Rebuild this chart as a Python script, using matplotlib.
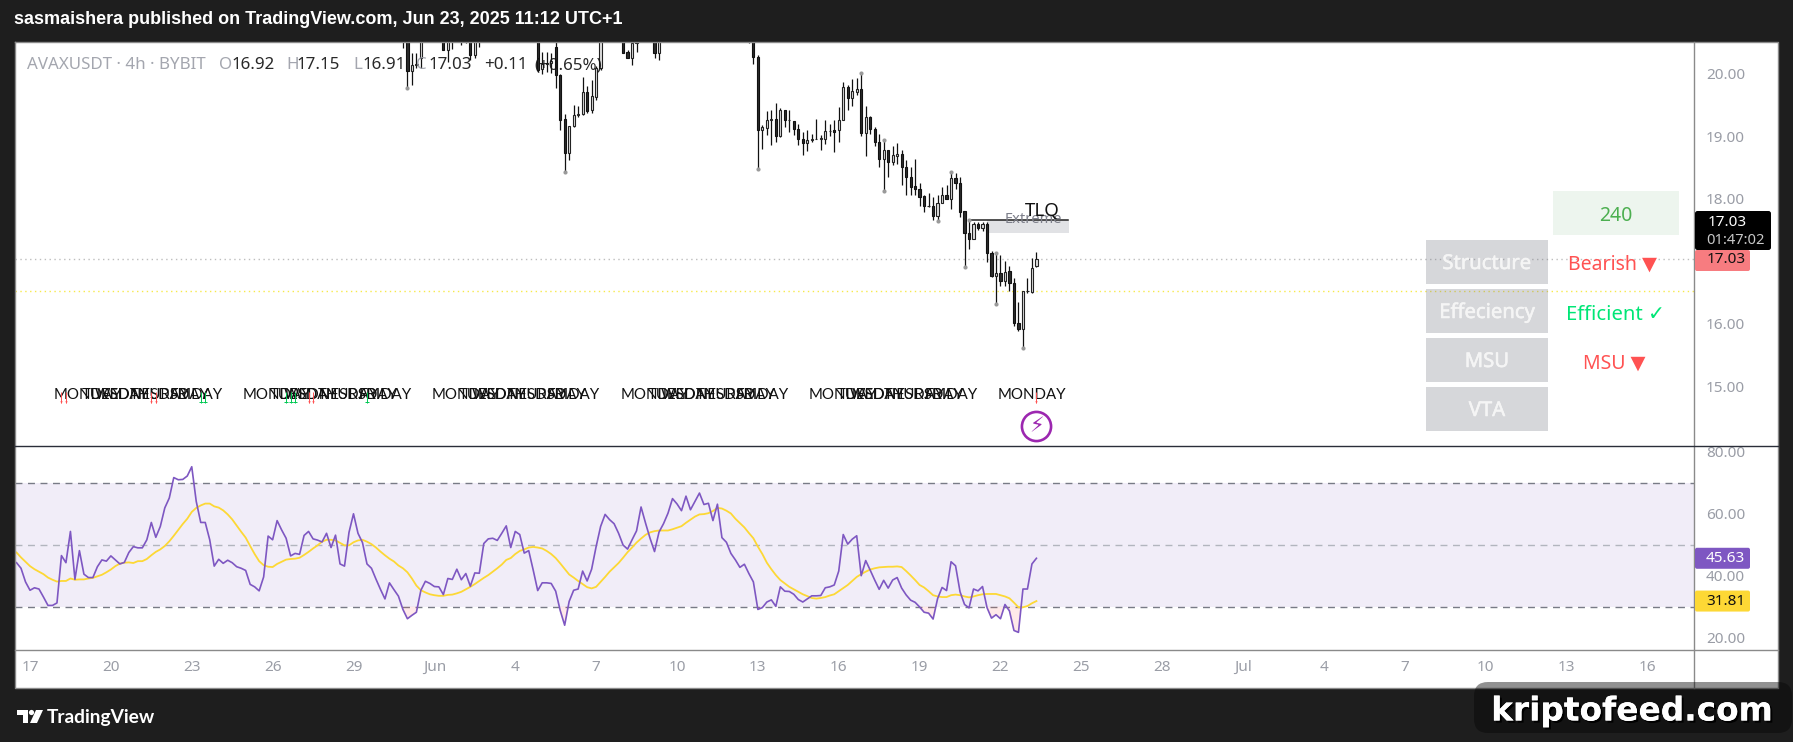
import numpy as np
import matplotlib
matplotlib.use("Agg")
import matplotlib.pyplot as plt
import matplotlib.patheffects as pe
from matplotlib.patches import Rectangle, FancyBboxPatch, Circle, Polygon

W, H = 1793, 742

# candles that fall inside the visible price range (4h bars, bar 0 = May 17 00:00)
candle_idx = [83, 84, 85, 86, 87, 90, 92, 93, 94, 96, 97, 98, 99, 100,
              113, 114, 115, 116, 117, 118, 119, 120, 121, 122, 123, 124, 125, 126, 127,
              132, 133, 134, 135, 139, 140, 160, 161,
              162, 163, 164, 165, 166, 167, 168, 169, 170, 171, 172, 173, 174, 175, 176, 177, 178, 179,
              180, 181, 182, 183, 184, 185, 186, 187, 188, 189, 190, 191, 192, 193, 194, 195, 196, 197,
              198, 199, 200, 201, 202, 203, 204, 205, 206, 207, 208, 209, 210, 211, 212, 213, 214, 215,
              216, 217, 218, 219, 220, 221, 222, 223, 224]
opens = [20.8, 20.9, 20.045, 20.13, 20.25, 20.7, 20.9, 20.38, 20.7, 20.7, 20.7, 20.9, 20.30, 20.7,
         21.0, 20.07, 20.15, 20.17, 20.42, 19.98, 19.27, 18.73, 19.16, 19.33, 19.35, 19.70, 19.41, 19.63, 20.08,
         20.8, 20.34, 20.25, 20.48, 20.8, 20.32, 20.7, 20.9,
         20.27, 19.09, 19.13, 19.25, 19.28, 19.0, 19.42, 19.25, 19.24, 19.12, 18.96, 18.89, 18.93, 18.96, 18.96, 18.96, 19.08, 19.09,
         19.09, 19.25, 19.78, 19.61, 19.71, 19.76, 19.05, 19.30, 19.12, 18.91, 18.64, 18.78, 18.58, 18.69, 18.72, 18.50, 18.34, 18.20,
         18.16, 18.04, 17.89, 17.89, 17.73, 17.93, 18.06, 17.99, 18.33, 18.25, 17.80, 17.45, 17.36, 17.59, 17.53, 17.59, 17.14, 16.77,
         16.81, 16.69, 16.84, 16.66, 16.02, 15.92, 16.52, 16.51, 16.92]
highs = [21.0, 21.0, 20.33, 20.33, 21.0, 21.0, 21.0, 21.0, 21.0, 21.0, 21.0, 21.0, 21.0, 21.0,
         21.2, 20.34, 20.34, 20.33, 21.0, 19.99, 19.35, 19.16, 19.49, 19.48, 19.94, 19.80, 19.90, 20.12, 21.0,
         21.0, 20.38, 20.6, 20.9, 21.0, 21.0, 21.0, 21.1,
         20.29, 19.18, 19.40, 19.42, 19.53, 19.45, 19.42, 19.42, 19.24, 19.20, 19.06, 19.10, 19.04, 19.27, 19.02, 19.26, 19.19, 19.25,
         19.47, 19.86, 19.82, 19.91, 19.92, 20.0, 19.48, 19.32, 19.14, 19.04, 18.94, 18.78, 18.84, 18.885, 18.78, 18.62, 18.50, 18.63,
         18.25, 18.06, 18.09, 18.03, 18.06, 18.18, 18.22, 18.42, 18.41, 18.34, 17.81, 17.66, 17.62, 17.62, 17.62, 17.62, 17.17, 17.13,
         17.10, 17.0, 16.92, 16.73, 16.35, 16.52, 16.74, 17.06, 17.15]
lows = [20.41, 19.77, 19.82, 20.09, 20.09, 20.50, 20.38, 20.18, 20.39, 20.46, 20.49, 20.22, 20.25, 20.42,
        20.02, 19.99, 20.03, 20.01, 19.77, 19.10, 18.43, 18.62, 19.14, 19.30, 19.34, 19.37, 19.37, 19.57, 20.05,
        20.33, 20.25, 20.14, 20.34, 20.24, 20.22, 20.49, 20.15,
        18.474, 18.79, 19.02, 18.86, 18.91, 18.98, 19.15, 19.07, 19.01, 18.86, 18.70, 18.76, 18.91, 18.95, 18.78, 18.87, 19.0, 18.74,
        18.91, 19.25, 19.42, 19.48, 19.65, 19.0, 18.68, 19.04, 18.84, 18.51, 18.12, 18.34, 18.54, 18.55, 18.22, 18.06, 18.06, 18.06,
        17.89, 17.79, 17.87, 17.66, 17.64, 17.93, 17.99, 17.83, 18.15, 17.70, 16.91, 17.20, 17.36, 17.50, 17.49, 16.99, 16.75, 16.32,
        16.60, 16.60, 16.52, 15.96, 15.89, 15.62, 16.50, 16.50, 16.91]
closes = [20.9, 20.045, 20.13, 20.15, 20.7, 20.8, 20.38, 20.8, 20.8, 20.8, 20.8, 20.30, 20.8, 20.8,
          20.06, 20.15, 20.17, 20.2, 19.97, 19.26, 18.73, 19.16, 19.33, 19.36, 19.70, 19.40, 19.64, 20.08, 20.7,
          20.33, 20.25, 20.49, 20.7, 20.32, 20.7, 20.8, 20.27,
          19.09, 19.14, 19.25, 19.28, 19.0, 19.42, 19.25, 19.25, 19.12, 18.96, 18.89, 18.93, 18.96, 18.96, 18.97, 19.08, 19.08, 19.07,
          19.25, 19.78, 19.61, 19.72, 19.76, 19.05, 19.30, 19.12, 18.91, 18.64, 18.78, 18.58, 18.70, 18.72, 18.50, 18.34, 18.19, 18.16,
          18.03, 17.89, 17.89, 17.73, 17.93, 18.06, 17.99, 18.33, 18.25, 17.79, 17.45, 17.36, 17.59, 17.53, 17.59, 17.14, 16.76, 16.81,
          16.69, 16.83, 16.66, 16.02, 15.92, 16.52, 16.52, 16.90, 17.03]

# swing points marked with a grey dot
pivot_low_idx = [84, 119, 162, 190, 202, 208, 215, 221]
pivot_high_idx = [185, 190, 205, 209, 215]

# signal arrows under the price
red_arrow_idx = [7, 8, 27, 28, 62, 63, 224]
green_arrow_idx = [38, 39, 57, 58, 59, 75]

weekday_names = ["MONDAY", "TUESDAY", "WEDNESDAY", "THURSDAY", "FRIDAY"]
monday_idx = [13, 55, 97, 139, 181]
last_monday_idx = 223

rsi_start = -3
rsi_values = [44.2, 42.4, 38.0, 35.3, 36.1, 35.7, 33.1, 30.4, 30.4, 31.2, 46.5, 44.2, 54.3, 38.8, 48.1, 40.5,
              39.4, 39.4, 42.9, 45.1, 44.7, 46.4, 45.1, 43.8, 44.3, 47.5, 49.4, 49.0, 49.0, 51.6, 57.2, 52.4,
              55.9, 61.9, 65.1, 71.7, 71.0, 71.1, 72.2, 75.2, 64.0, 57.2, 57.2, 51.6, 43.1, 45.3, 44.0, 45.0,
              44.2, 42.9, 42.4, 41.7, 37.2, 36.4, 35.1, 39.6, 52.8, 51.6, 57.8, 54.8, 52.1, 46.4, 47.2, 46.9,
              53.0, 54.3, 51.9, 51.5, 50.9, 53.7, 49.1, 53.1, 43.8, 43.1, 54.0, 60.0, 53.7, 50.7, 43.8, 42.4,
              38.9, 35.6, 32.5, 37.7, 35.5, 33.4, 29.1, 26.1, 27.2, 28.2, 35.3, 38.2, 37.5, 36.5, 36.4, 33.9,
              39.1, 38.8, 42.1, 38.7, 40.7, 36.6, 40.9, 40.8, 50.4, 51.9, 52.1, 51.4, 53.7, 56.1, 49.1, 54.3,
              53.3, 47.3, 48.1, 41.8, 35.2, 37.7, 37.7, 37.5, 35.0, 28.8,
              24.0, 31.7, 35.3, 35.7, 41.5, 38.3, 42.1, 49.4, 55.9, 59.8, 58.1, 56.8, 53.7, 49.9, 48.6, 51.6,
              54.5, 62.2, 57.0, 52.1, 47.8, 54.1, 56.8, 60.2, 64.9, 63.2, 61.0, 65.7, 61.3, 64.0, 66.7, 63.0,
              63.4, 57.8, 63.1, 52.3, 50.8, 47.2, 45.1, 42.7, 43.7, 40.7, 38.0, 29.1, 29.7, 31.5, 32.2, 30.1,
              36.4, 35.0, 34.9, 34.0, 32.3, 31.5, 32.5, 33.5, 33.5, 33.6, 36.1, 36.4, 37.0, 41.5, 53.3, 50.2,
              51.8, 52.9, 40.0, 44.9, 41.8, 38.6, 35.6, 38.5, 36.0, 38.6, 39.4, 36.0, 33.8, 32.1, 31.4, 29.9,
              28.2, 27.9, 26.0, 32.6, 36.2, 35.2, 44.5, 43.2, 34.8, 30.7, 29.6, 35.7, 35.1, 36.5, 29.7, 26.3,
              27.4, 26.1, 30.7, 28.6, 22.3, 21.7, 35.7, 35.7, 43.8, 45.63]
rsi_ma_values = [47.5, 45.9, 44.5, 43.1, 42.1, 41.3, 40.5, 39.4, 38.7, 38.1, 38.3, 38.3, 39.1, 38.7, 38.8, 38.8,
                 39.1, 39.3, 39.8, 40.3, 41.1, 42.0, 43.1, 43.9, 44.2, 44.3, 44.1, 44.7, 44.7, 45.4, 46.6, 47.7,
                 48.5, 49.6, 51.1, 52.9, 54.8, 56.7, 58.4, 60.6, 61.9, 62.7, 63.3, 63.3, 62.4, 62.0, 61.1, 59.8,
                 58.2, 56.2, 54.2, 52.3, 49.6, 47.0, 44.7, 43.4, 42.9, 42.8, 43.8, 44.5, 45.2, 45.4, 45.5, 45.8,
                 46.7, 47.7, 48.8, 49.8, 51.0, 51.6, 51.6, 51.4, 50.6, 49.8, 49.8, 50.8, 51.4, 51.6, 51.0, 50.2,
                 49.1, 47.8, 46.6, 45.5, 44.6, 43.3, 42.4, 41.1, 39.1, 36.8, 35.3, 34.6, 34.0, 33.7, 33.5, 33.5,
                 33.8, 33.9, 34.3, 34.8, 35.6, 36.4, 37.3, 38.3, 39.3, 40.2, 41.3, 42.4, 43.6, 45.1, 45.7, 47.0,
                 48.0, 48.5, 49.1, 49.3, 49.1, 48.8, 48.0, 47.0, 45.7, 44.0,
                 42.2, 40.4, 39.4, 38.3, 37.3, 36.3, 35.9, 36.4, 38.0, 39.6, 41.3, 42.7, 44.1, 45.8, 47.6, 49.1,
                 50.7, 52.0, 53.2, 54.0, 54.4, 54.6, 54.6, 54.6, 55.0, 55.5, 56.0, 57.1, 58.1, 59.1, 59.8, 59.9,
                 60.2, 60.9, 61.9, 61.7, 61.0, 60.1, 58.4, 57.0, 55.6, 53.8, 52.1, 49.4, 47.0, 44.2, 42.1, 40.2,
                 38.6, 37.5, 36.4, 35.6, 34.8, 34.0, 33.4, 32.8, 32.6, 32.8, 33.1, 33.6, 34.0, 35.0, 36.0, 37.0,
                 38.3, 39.6, 40.5, 41.3, 42.0, 42.4, 42.7, 42.8, 42.9, 42.9, 43.0, 42.8, 41.5, 40.1, 38.6, 37.0,
                 36.2, 35.0, 33.7, 33.3, 33.1, 33.1, 33.7, 33.9, 33.7, 33.3, 33.0, 33.3, 33.7, 34.0, 34.1, 34.1,
                 34.1, 33.7, 33.3, 32.7, 31.3, 29.8, 29.8, 30.2, 31.1, 31.81]

price_ticks = [15, 16, 18, 19, 20]
rsi_ticks = [20, 40, 60, 80]
time_tick_idx = [0, 18, 36, 54, 72, 90, 108, 126, 144, 162, 180, 198, 216, 234, 252, 270, 288, 306, 324, 342, 360]
time_tick_labels = ["17", "20", "23", "26", "29", "Jun", "4", "7", "10", "13", "16", "19", "22", "25", "28",
                    "Jul", "4", "7", "10", "13", "16"]

last_price = 17.03
level_line = 16.53
tlq_level = 17.655
extreme_low = 17.46

FONT = ["Noto Sans", "DejaVu Sans"]
plt.rcParams["font.family"] = FONT

DARK = "#1e1e1e"
GREY_TXT = "#9a9da6"


def px_axes(x0, y0, x1, y1, **kw):
    # axes from a pixel box, y counted from the top
    return fig.add_axes([x0 / W, 1 - y1 / H, (x1 - x0) / W, (y1 - y0) / H], **kw)


fig = plt.figure(figsize=(W / 100, H / 100), dpi=100, facecolor=DARK)
fig.add_artist(Rectangle((15 / W, 1 - 688 / H), 1763 / W, 646 / H, transform=fig.transFigure,
                         facecolor="white", edgecolor="none", zorder=-1))

# bar i sits at 30 + 4.493 * i pixels
xlim = ((15 - 30) / 4.493, (1694 - 30) / 4.493)

ax = px_axes(15, 42, 1694, 446, facecolor="none")
rsi_ax = px_axes(15, 446, 1694, 650, facecolor="none", sharex=ax)

ax.set_xlim(*xlim)
ax.set_ylim(14.05, 20.503)
rsi_ax.set_ylim(16.0, 81.9)

# price pane
for a in (ax, rsi_ax):
    for s in a.spines.values():
        s.set_visible(False)
    a.yaxis.tick_right()
    a.tick_params(axis="y", length=0, pad=8.5, labelsize=11, labelcolor=GREY_TXT)

ax.set_yticks(price_ticks, [f"{v:.2f}" for v in price_ticks])
ax.tick_params(axis="x", length=0, labelbottom=False)

ax.axhline(last_price, color="#bdbdbd", lw=1, ls=(0, (1, 2.5)), zorder=1)
ax.axhline(level_line, color="#f7e94a", lw=1, ls=(0, (1, 2.5)), zorder=1)

ax.add_patch(Rectangle((213, extreme_low), 18.25, tlq_level - extreme_low, facecolor="#e1e2e5",
                       edgecolor="none", zorder=1.5))
ax.plot([209, 231], [tlq_level, tlq_level], color="#222222", lw=1.1, zorder=1.6)
ax.text(223.4, 17.66, "Extreme", color="#7d7f8a", fontsize=10.5, ha="center", va="center", zorder=6)
ax.text(225.2, 17.81, "TLQ", color="#111111", fontsize=13.5, ha="center", va="center", zorder=6)

idx = np.array(candle_idx)
o, h, l, c = map(np.array, (opens, highs, lows, closes))
up = c >= o
ax.vlines(idx, l, h, color="#111111", lw=0.9, zorder=2)
ax.bar(idx[up], (c - o)[up], bottom=o[up], width=0.5, facecolor="#e0e0e0", edgecolor="#222222", lw=0.8, zorder=3)
ax.bar(idx[~up], (c - o)[~up], bottom=o[~up], width=0.5, facecolor="#2b2b2b", edgecolor="#111111", lw=0.8, zorder=3)

low_by_idx = dict(zip(candle_idx, lows))
high_by_idx = dict(zip(candle_idx, highs))
ax.scatter(pivot_low_idx, [low_by_idx[i] for i in pivot_low_idx], s=9, color="#9a9a9a", zorder=4, lw=0)
ax.scatter(pivot_high_idx, [high_by_idx[i] for i in pivot_high_idx], s=9, color="#9a9a9a", zorder=4, lw=0)

# weekday labels
day_kw = dict(color="#111111", fontsize=10.8, ha="center", va="center", family="Lato", zorder=5)
for monday in monday_idx:
    for n, name in enumerate(weekday_names):
        ax.text(monday + 6 * n, 14.86, name, **day_kw)
ax.text(last_monday_idx, 14.86, weekday_names[0], **day_kw)

ax.vlines(red_arrow_idx, 14.74, 14.91, color="#ff5252", lw=0.7, zorder=6)
ax.vlines(green_arrow_idx, 14.74, 14.91, color="#00c853", lw=0.7, zorder=6)
ax.scatter(red_arrow_idx, [14.75] * len(red_arrow_idx), marker="v", s=3, color="#ff5252", lw=0, zorder=6)
ax.scatter(green_arrow_idx, [14.75] * len(green_arrow_idx), marker="_", s=5, color="#00c853", lw=0.7, zorder=6)

# lightning marker on the last bar
ax.scatter([224], [14.37], s=440, facecolor="white", edgecolor="#9c27b0", lw=1.9, zorder=6)
ax.text(224, 14.37, "\u26a1", color="#9c27b0", fontsize=15, ha="center", va="center",
        family="DejaVu Sans", zorder=7)

# RSI pane
rsi_x = np.arange(rsi_start, rsi_start + len(rsi_values))
rsi = np.array(rsi_values)
ma_x = np.arange(rsi_start, rsi_start + len(rsi_ma_values))

rsi_ax.axhspan(30, 70, color="#7e57c2", alpha=0.1, lw=0, zorder=1)
rsi_ax.axhline(70, color="#787b86", lw=1, ls=(0, (5, 4)), zorder=2)
rsi_ax.axhline(50, color="#b2b5be", lw=1, ls=(0, (5, 4)), zorder=2)
rsi_ax.axhline(30, color="#787b86", lw=1, ls=(0, (5, 4)), zorder=2)
rsi_ax.fill_between(rsi_x, rsi, 30, where=rsi < 30, interpolate=True, color="#ff5252", alpha=0.12, lw=0, zorder=2)
rsi_ax.plot(ma_x, rsi_ma_values, color="#fdd835", lw=1.3, zorder=3)
rsi_ax.plot(rsi_x, rsi, color="#7e57c2", lw=1.2, zorder=4)

rsi_ax.set_yticks(rsi_ticks, [f"{v:.2f}" for v in rsi_ticks])
rsi_ax.set_xticks(time_tick_idx, time_tick_labels)
rsi_ax.tick_params(axis="x", length=0, pad=7, labelsize=11, labelcolor=GREY_TXT)
for lab in rsi_ax.get_xticklabels():
    if lab.get_text() in ("Jun", "Jul"):
        lab.set_fontweight("bold")

# widgets and frame, laid out in pixels
ui = fig.add_axes([0, 0, 1, 1], facecolor="none", zorder=5)
ui.set_xlim(0, W)
ui.set_ylim(H, 0)
ui.axis("off")


def box(x0, y0, x1, y1, color, radius=0, alpha=None, zorder=2):
    if radius:
        p = FancyBboxPatch((x0 + radius, y0 + radius), x1 - x0 - 2 * radius, y1 - y0 - 2 * radius,
                           boxstyle=f"round,pad={radius},rounding_size={radius}", facecolor=color,
                           edgecolor="none", alpha=alpha, zorder=zorder)
    else:
        p = Rectangle((x0, y0), x1 - x0, y1 - y0, facecolor=color, edgecolor="none", alpha=alpha, zorder=zorder)
    ui.add_patch(p)


def pane_y(a, v):
    return H - a.transData.transform((0, v))[1]


ui.plot([14.5, 1778, 1778, 14.5, 14.5], [41.5, 41.5, 688, 688, 41.5], color="#8a8a8a", lw=1)
ui.plot([1694, 1694], [42, 688], color="#8a8a8a", lw=1)
ui.plot([15, 1778], [446, 446], color="#2a2e39", lw=1)
ui.plot([15, 1778], [650, 650], color="#8a8a8a", lw=1)

ui.text(14, 19.5, "sasmaishera published on TradingView.com, Jun 23, 2025 11:12 UTC+1", color="white",
        fontsize=13, fontweight="bold", family="Liberation Sans", va="center", ha="left")

# instrument line
legend_parts = [(27, "AVAXUSDT \u00b7 4h \u00b7 BYBIT", GREY_TXT), (219, "O", GREY_TXT), (231, "16.92", "#111111"),
                (286, "H", GREY_TXT), (296, "17.15", "#111111"), (353, "L", GREY_TXT), (362, "16.91", "#111111"),
                (416, "C", GREY_TXT), (428, "17.03", "#111111"), (484, "+0.11", "#111111"),
                (534, "(+0.65%)", "#111111")]
for x, s, col in legend_parts:
    ui.text(x, 65, s, color=col, fontsize=12.2, va="center", ha="left", alpha=0.9)

# status panel
box(1553, 191, 1679, 235, "#edf5ee")
ui.text(1616, 216, "240", color="#4caf50", fontsize=14, ha="center", va="center")
panel_rows = ["Structure", "Effeciency", "MSU", "VTA"]
panel_tops = [240, 289, 338, 387]
for name, top in zip(panel_rows, panel_tops):
    box(1426, top, 1548, top + 44, "#787b86", alpha=0.3)
    ui.text(1487, top + 24, name, color="#f5f5f5", fontsize=14.6, fontweight="medium", ha="center", va="center",
            path_effects=[pe.withStroke(linewidth=0.4, foreground="#f5f5f5")])
ui.text(1613, 264.5, "Bearish \u25bc", color="#ff5252", fontsize=14, ha="center", va="center")
ui.text(1616, 314.5, "Efficient \u2713", color="#00e676", fontsize=14.6, ha="center", va="center")
ui.text(1614, 363.5, "MSU \u25bc", color="#ff5252", fontsize=14, ha="center", va="center")

# price tags on the scale
box(1695, 211, 1771, 250, "#000000", radius=2.5)
ui.text(1708, 222, f"{last_price:.2f}", color="white", fontsize=11, va="center", ha="left")
ui.text(1706, 240, "01:47:02", color="#c8c8c8", fontsize=10.6, va="center", ha="left")
y = pane_y(ax, last_price)
box(1695, 250, 1750, 271, "#f77c80", radius=2)
ui.text(1707, y + 0.5, f"{last_price:.2f}", color="#111111", fontsize=11, va="center", ha="left")

y = pane_y(rsi_ax, rsi_values[-1])
box(1695, y - 10.5, 1750, y + 10.5, "#7e57c2", radius=2)
ui.text(1706, y, f"{rsi_values[-1]:.2f}", color="white", fontsize=11, va="center", ha="left")
y = pane_y(rsi_ax, rsi_ma_values[-1])
box(1695, y - 10.5, 1750, y + 10.5, "#fdd835", radius=2)
ui.text(1706, y, f"{rsi_ma_values[-1]:.2f}", color="#111111", fontsize=11, va="center", ha="left")

# footer logo and site badge
ui.add_patch(Polygon([(17, 710), (28, 710), (28, 723), (22.5, 723), (22.5, 715), (17, 715)], facecolor="white"))
ui.add_patch(Circle((31.5, 712.5), 2.6, facecolor="white"))
ui.add_patch(Polygon([(36, 710), (43, 710), (37, 723), (30, 723)], facecolor="white"))
ui.text(47, 717, "TradingView", color="white", fontsize=13.8, fontweight="bold", family="Lato", va="center", ha="left")

box(1474, 682, 1792, 733, "#050505", radius=14, alpha=0.44, zorder=6)
badge = ui.text(1632, 711, "kriptofeed.com", color="white", fontsize=23.6, fontweight="bold", family="DejaVu Sans",
                ha="center", va="center", zorder=7)
badge.set_path_effects([pe.withSimplePatchShadow(offset=(1.5, -1.5), shadow_rgbFace="black", alpha=1),
                        pe.Normal()])

fig.savefig("out.png", dpi=100, facecolor=fig.get_facecolor())
